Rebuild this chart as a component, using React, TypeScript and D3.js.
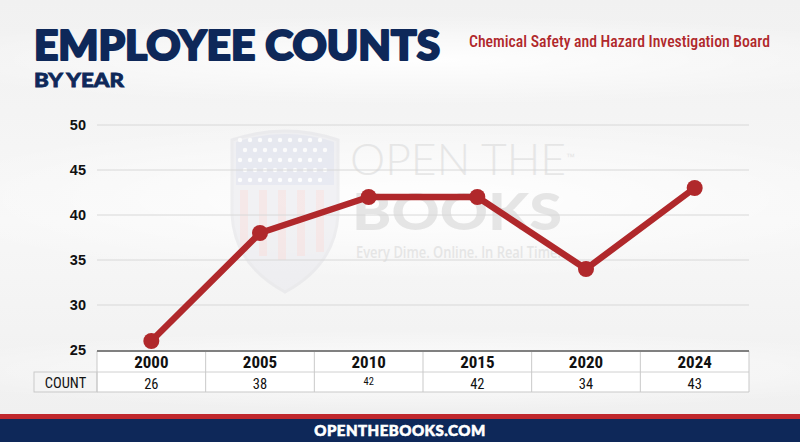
import React from "react";
import * as d3 from "d3";

const years = ["2000", "2005", "2010", "2015", "2020", "2024"];
const counts = [26, 38, 42, 42, 34, 43];
const yTicks = [25, 30, 35, 40, 45, 50];

const W = 800;
const H = 442;
const plotLeft = 97;
const plotRight = 749;
const plotTop = 125;
const plotBottom = 350;

const RED = "#b0282b";
const NAVY = "#0e2859";

export default function App() {
  const x = d3
    .scaleBand<string>()
    .domain(years)
    .range([plotLeft, plotRight]);
  const y = d3.scaleLinear().domain([25, 50]).range([plotBottom, plotTop]);
  const line = d3
    .line<number>()
    .x((_, i) => (x(years[i]) as number) + x.bandwidth() / 2)
    .y((d) => y(d));

  const headTop = 351;
  const headBot = 372;
  const rowBot = 392;
  const labelLeft = 34;

  const stars: JSX.Element[] = [];
  for (let r = 0; r < 5; r++) {
    for (let c = 0; c < 9; c++) {
      const sx = 240 + c * 10 + (r % 2) * 5;
      const sy = 140 + r * 10;
      if (sx > 330) continue;
      stars.push(<circle key={`s${r}-${c}`} cx={sx} cy={sy} r={2.2} fill="#ffffff" />);
    }
  }

  return (
    <svg
      width={W}
      height={H}
      style={{ position: "absolute", left: 0, top: 0, display: "block" }}
      fontFamily="'Liberation Sans', Arial, sans-serif"
    >
      <defs>
        <linearGradient id="bg" x1="0" y1="0" x2="0" y2="1">
          <stop offset="0" stopColor="#f1f1f1" />
          <stop offset="0.5" stopColor="#f7f7f7" />
          <stop offset="1" stopColor="#efefef" />
        </linearGradient>
        <radialGradient id="sw" cx="0.5" cy="0.5" r="0.5">
          <stop offset="0" stopColor="#ffffff" stopOpacity="0.95" />
          <stop offset="1" stopColor="#ffffff" stopOpacity="0" />
        </radialGradient>
      </defs>
      <rect x={0} y={0} width={W} height={H} fill="url(#bg)" />
      <ellipse cx={420} cy={60} rx={520} ry={45} fill="url(#sw)" />
      <ellipse cx={420} cy={200} rx={520} ry={80} fill="url(#sw)" />
      <ellipse cx={420} cy={370} rx={520} ry={40} fill="url(#sw)" />

      {/* watermark */}
      <g opacity={0.55}>
        <path
          d="M232,140 Q285,122 338,140 L338,215 Q335,265 285,292 Q235,265 232,215 Z"
          fill="#e9e9ee"
          stroke="#e2e2e6"
          strokeWidth={3}
        />
        <path d="M236,142 Q285,126 334,142 L334,185 L236,185 Z" fill="#d9dcea" />
        {stars}
        {[0, 1, 2, 3, 4].map((i) => (
          <rect key={`st${i}`} x={240 + i * 19} y={190} width={8} height={70 - Math.abs(i - 2) * 4} fill="#f1d9d9" />
        ))}
        <text x={350} y={175} fontSize={44} fontFamily="Lato, 'Open Sans', sans-serif" fontWeight={300} fill="#d8d8d8" textLength={216} lengthAdjust="spacingAndGlyphs">
          OPEN THE
        </text>
        <text x={352} y={230} fontSize={52} fontFamily="Lato, 'Open Sans', sans-serif" fontWeight={900} fill="#d3d3d3" textLength={210} lengthAdjust="spacingAndGlyphs">
          BOOKS
        </text>
        <text x={566} y={160} fontSize={9} fill="#d3d3d3">™</text>
        <text x={356} y={258} fontSize={16} fontFamily="'Open Sans', sans-serif" fontWeight={600} fill="#d6d6d6" textLength={205} lengthAdjust="spacingAndGlyphs">
          Every Dime. Online. In Real Time.
        </text>
      </g>

      {/* title */}
      <text x={34} y={60} fontSize={41} fontFamily="Lato, Roboto, sans-serif" fontWeight={900} fill={NAVY} stroke={NAVY} strokeWidth={2.2} strokeLinejoin="round" textLength={406} lengthAdjust="spacingAndGlyphs">
        EMPLOYEE COUNTS
      </text>
      <text x={34} y={87} fontSize={19.5} fontFamily="Lato, Roboto, sans-serif" fontWeight={900} fill={NAVY} stroke={NAVY} strokeWidth={0.8} textLength={90} lengthAdjust="spacingAndGlyphs">
        BY YEAR
      </text>
      <text x={469} y={47} fontSize={16} fontFamily="'Liberation Sans Narrow', 'Roboto Condensed', 'Open Sans', sans-serif" fontWeight={500} fill={RED} textLength={301} lengthAdjust="spacingAndGlyphs">
        Chemical Safety and Hazard Investigation Board
      </text>

      {/* gridlines */}
      {yTicks.map((t) => (
        <g key={t}>
          {t !== 25 && (
            <line x1={plotLeft} x2={plotRight} y1={y(t)} y2={y(t)} stroke="#d8d8d8" strokeWidth={1} />
          )}
          <text x={86} y={y(t) + 5} textAnchor="end" fontSize={14.5} fontWeight={700} fill="#111">
            {t}
          </text>
        </g>
      ))}

      {/* table */}
      <rect x={plotLeft} y={headTop} width={plotRight - plotLeft} height={rowBot - headTop} fill="#ffffff" />
      <rect x={labelLeft} y={headBot} width={plotLeft - labelLeft} height={rowBot - headBot} fill="#f4f4f4" stroke="#c9c9c9" strokeWidth={1} />
      <line x1={plotLeft} x2={plotRight} y1={headBot} y2={headBot} stroke="#d0d0d0" />
      <line x1={plotLeft} x2={plotRight} y1={rowBot} y2={rowBot} stroke="#c9c9c9" />
      {years.map((yr) => {
        const bx = x(yr) as number;
        return (
          <line key={`v${yr}`} x1={bx} x2={bx} y1={headTop} y2={rowBot} stroke="#c9c9c9" />
        );
      })}
      <line x1={plotRight} x2={plotRight} y1={headTop} y2={rowBot} stroke="#c9c9c9" />
      <line x1={plotLeft} x2={plotRight} y1={plotBottom + 1} y2={plotBottom + 1} stroke="#808080" strokeWidth={2} />
      <text x={(labelLeft + plotLeft) / 2} y={388} textAnchor="middle" fontSize={14.5} fontFamily="'Liberation Sans Narrow', 'Roboto Condensed', sans-serif" fill="#111">
        COUNT
      </text>
      {years.map((yr, i) => {
        const cx = (x(yr) as number) + x.bandwidth() / 2;
        const small = yr === "2010";
        return (
          <g key={`t${yr}`}>
            <text x={cx} y={368} textAnchor="middle" fontSize={17} fontWeight={700} fontFamily="'Liberation Sans Narrow', 'Roboto Condensed', sans-serif" fill="#111">
              {yr}
            </text>
            <text x={cx} y={small ? 385 : 389} textAnchor="middle" fontSize={small ? 10.5 : 14.5} fontFamily="'Liberation Sans Narrow', 'Roboto Condensed', sans-serif" fill="#111">
              {counts[i]}
            </text>
          </g>
        );
      })}

      {/* line */}
      <path d={line(counts) || ""} fill="none" stroke={RED} strokeWidth={6.5} strokeLinejoin="round" />
      {counts.map((c, i) => (
        <circle key={`p${i}`} cx={(x(years[i]) as number) + x.bandwidth() / 2} cy={y(c)} r={8} fill={RED} />
      ))}

      {/* footer */}
      <rect x={0} y={414} width={W} height={6} fill="#c0282d" />
      <rect x={0} y={419} width={W} height={23} fill={NAVY} />
      <text x={400} y={436} textAnchor="middle" fontSize={15} fontFamily="Lato, Roboto, sans-serif" fontWeight={900} fill="#ffffff" stroke="#ffffff" strokeWidth={0.6} letterSpacing={0.5}>
        OPENTHEBOOKS.COM
      </text>
    </svg>
  );
}
